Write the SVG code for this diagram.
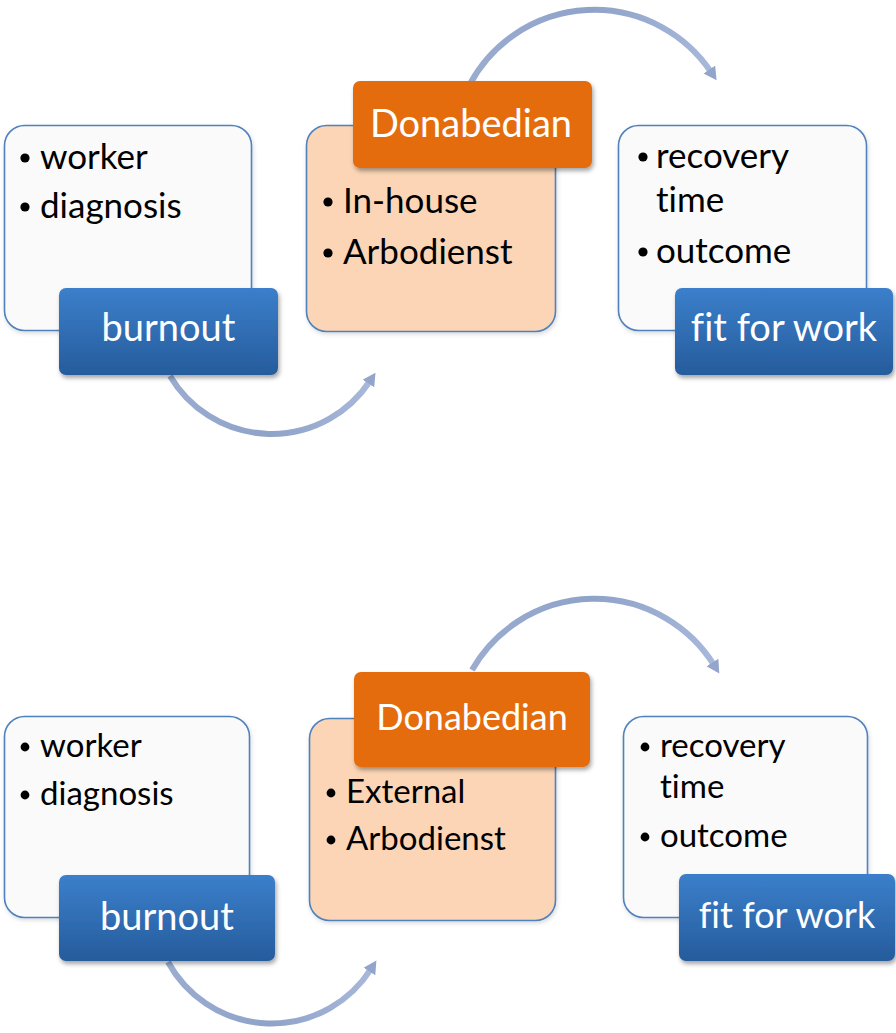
<svg xmlns="http://www.w3.org/2000/svg" width="896" height="1033" viewBox="0 0 896 1033">
<defs>
<linearGradient id="blueGrad" x1="0" y1="0" x2="0" y2="1">
<stop offset="0" stop-color="#3B7FCB"/>
<stop offset="1" stop-color="#265C9C"/>
</linearGradient>
<linearGradient id="arrowGrad" x1="0" y1="0" x2="1" y2="0">
<stop offset="0" stop-color="#9AACD0"/>
<stop offset="0.5" stop-color="#8FA2C8"/>
<stop offset="1" stop-color="#A7B8DA"/>
</linearGradient>
<filter id="shadow" x="-10%" y="-10%" width="125%" height="135%">
<feDropShadow dx="1.5" dy="3" stdDeviation="2.2" flood-color="#000" flood-opacity="0.35"/>
</filter>
<filter id="softShadow" x="-10%" y="-10%" width="125%" height="135%">
<feDropShadow dx="1" dy="2" stdDeviation="2" flood-color="#000" flood-opacity="0.15"/>
</filter>
<marker id="head" markerUnits="userSpaceOnUse" markerWidth="16" markerHeight="16" refX="3" refY="7" orient="auto">
<path d="M0,0 L13,7 L0,14 z" fill="#93A5CB"/>
</marker>
<style>
.panel{fill:#FAFAFA;stroke:#4F81BD;stroke-width:1.6;}
.peach{fill:#FBD5B5;stroke:#4F81BD;stroke-width:1.6;}
.blue{fill:url(#blueGrad);}
.orange{fill:#E46C0A;}
text{font-variant-ligatures:none;font-feature-settings:"liga" 0,"clig" 0;}
.hdr{font-family:Lato,"Open Sans","Liberation Sans",sans-serif;fill:#FFFFFF;}
.body{font-family:Lato,"Open Sans","Liberation Sans",sans-serif;fill:#000000;}
.bul{fill:#000000;}
.arc{fill:none;stroke:url(#arrowGrad);stroke-width:6;marker-end:url(#head);}
</style>
</defs>
<rect width="896" height="1033" fill="#FFFFFF"/>

<g id="connectors">
<path class="arc" d="M170,376 A118,118 0 0 0 370,381"/>
<path class="arc" d="M470,84 A141,141 0 0 1 711,72"/>
<path class="arc" d="M168,962 A118,118 0 0 0 371,969"/>
<path class="arc" d="M472,670 A141,141 0 0 1 714,665"/>
</g>

<g id="top-input">
<rect class="panel" x="4.5" y="125.5" width="247" height="205" rx="20" filter="url(#softShadow)"/>
<circle class="bul" cx="25" cy="158" r="4.6"/>
<text class="body" x="40" y="169" font-size="35">worker</text>
<circle class="bul" cx="25" cy="207" r="4.6"/>
<text class="body" x="40" y="218" font-size="35">diagnosis</text>
</g>
<g id="top-burnout">
<rect class="blue" x="59" y="288" width="219" height="87" rx="7" filter="url(#shadow)"/>
<text class="hdr" x="168.5" y="341" font-size="38" text-anchor="middle">burnout</text>
</g>

<g id="top-process">
<rect class="peach" x="306.5" y="125.5" width="249" height="206" rx="20" filter="url(#softShadow)"/>
<circle class="bul" cx="328" cy="202" r="4.6"/>
<text class="body" x="343" y="213" font-size="35">In-house</text>
<circle class="bul" cx="328" cy="253" r="4.6"/>
<text class="body" x="343" y="264" font-size="35">Arbodienst</text>
</g>
<g id="top-donabedian">
<rect class="orange" x="353" y="81" width="239" height="87" rx="7" filter="url(#shadow)"/>
<text class="hdr" x="471" y="137" font-size="38" text-anchor="middle">Donabedian</text>
</g>

<g id="top-output">
<rect class="panel" x="618.5" y="125.5" width="248" height="205" rx="20" filter="url(#softShadow)"/>
<circle class="bul" cx="643" cy="157" r="4.6"/>
<text class="body" x="656" y="168" font-size="35">recovery</text>
<text class="body" x="656" y="212" font-size="35">time</text>
<circle class="bul" cx="643" cy="252" r="4.6"/>
<text class="body" x="656" y="263" font-size="35">outcome</text>
</g>
<g id="top-fit">
<rect class="blue" x="675" y="288" width="218" height="87" rx="7" filter="url(#shadow)"/>
<text class="hdr" x="784" y="341" font-size="38" text-anchor="middle">fit for work</text>
</g>

<g id="bottom-input">
<rect class="panel" x="4.5" y="716.5" width="245" height="201" rx="20" filter="url(#softShadow)"/>
<circle class="bul" cx="25" cy="747" r="4.4"/>
<text class="body" x="40" y="757" font-size="33">worker</text>
<circle class="bul" cx="25" cy="795" r="4.4"/>
<text class="body" x="40" y="805" font-size="33">diagnosis</text>
</g>
<g id="bottom-burnout">
<rect class="blue" x="59" y="875" width="216" height="86" rx="7" filter="url(#shadow)"/>
<text class="hdr" x="167" y="930" font-size="38" text-anchor="middle">burnout</text>
</g>

<g id="bottom-process">
<rect class="peach" x="309.5" y="718.5" width="246" height="202" rx="20" filter="url(#softShadow)"/>
<circle class="bul" cx="331" cy="793" r="4.4"/>
<text class="body" x="346" y="803" font-size="33">External</text>
<circle class="bul" cx="331" cy="840" r="4.4"/>
<text class="body" x="346" y="850" font-size="33">Arbodienst</text>
</g>
<g id="bottom-donabedian">
<rect class="orange" x="354" y="672" width="236" height="95" rx="7" filter="url(#shadow)"/>
<text class="hdr" x="472" y="730" font-size="36" text-anchor="middle">Donabedian</text>
</g>

<g id="bottom-output">
<rect class="panel" x="623.5" y="716.5" width="244" height="201" rx="20" filter="url(#softShadow)"/>
<circle class="bul" cx="645" cy="747" r="4.4"/>
<text class="body" x="660" y="757" font-size="33">recovery</text>
<text class="body" x="660" y="798" font-size="33">time</text>
<circle class="bul" cx="645" cy="837" r="4.4"/>
<text class="body" x="660" y="847" font-size="33">outcome</text>
</g>
<g id="bottom-fit">
<rect class="blue" x="679" y="874" width="216" height="87" rx="7" filter="url(#shadow)"/>
<text class="hdr" x="787" y="928" font-size="36" text-anchor="middle">fit for work</text>
</g>
</svg>
